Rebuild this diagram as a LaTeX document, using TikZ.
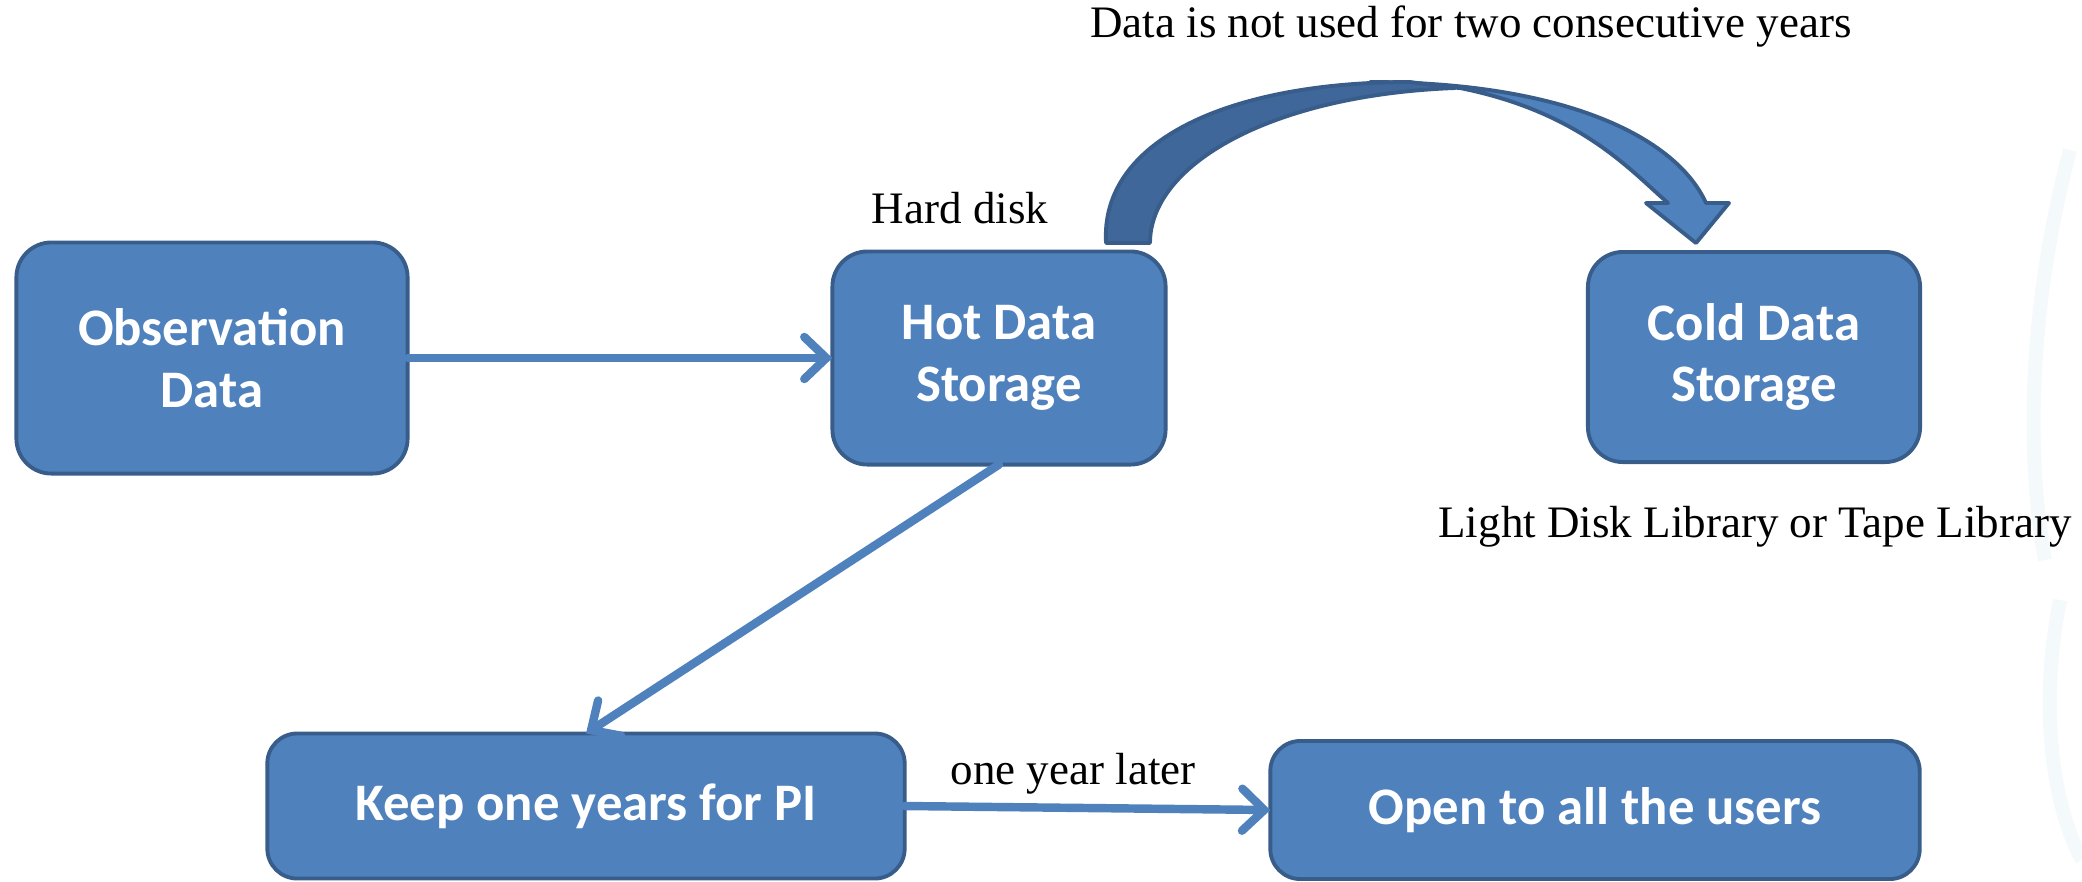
\documentclass[tikz,border=0pt]{standalone}
\usepackage{fontspec}
\setmainfont{Liberation Serif}
\newfontfamily\boxfont{Carlito}
\usepackage{tikz}
\usetikzlibrary{arrows.meta}

\definecolor{boxblue}{RGB}{79,129,189}
\definecolor{boxedge}{RGB}{56,93,138}
\definecolor{darkblue}{RGB}{64,103,154}
\definecolor{faintblue}{RGB}{244,249,251}

\tikzset{
  databox/.style={draw=boxedge, fill=boxblue, line width=1.1pt, rounded corners=0.35cm,
    text=white, font=\boxfont\bfseries\fontsize{15}{17.5}\selectfont, align=center,
    inner sep=0pt, outer sep=0pt},
  conn/.style={draw=boxblue, line width=2.4pt, line cap=round,
    -{Straight Barb[length=0.22cm,width=0.42cm,line cap=round]}},
  note/.style={font=\fontsize{12.8}{15}\selectfont, inner sep=0pt}
}

\begin{document}
\begin{tikzpicture}[x=0.01cm, y=-0.01cm]
\useasboundingbox (0,0) rectangle (2082,881);

% faint background at the right edge
\draw[faintblue, line width=4pt] (2070,150) .. controls (2030,300) and (2025,450) .. (2045,560);
\draw[faintblue, line width=4pt] (2060,600) .. controls (2040,700) and (2050,800) .. (2082,860);

\node[databox, minimum width=3.91cm, minimum height=2.31cm] (obs) at (212,358) {Observation\\Data};
\node[databox, minimum width=3.33cm, minimum height=2.13cm] (hot) at (999,358) {Hot Data\\Storage};
\node[databox, minimum width=3.32cm, minimum height=2.10cm] (cold) at (1754,357) {Cold Data\\Storage};
\node[databox, minimum width=6.37cm, minimum height=1.45cm, rounded corners=0.3cm] (keep) at (586,806) {Keep one years for PI};
\node[databox, minimum width=6.49cm, minimum height=1.38cm, rounded corners=0.3cm] (open) at (1595,810) {Open to all the users};

\node[note] (unused) at (1471,27) {Data is not used for two consecutive years};
\node[note] (disk) at (960,208) {Hard disk};
\node[note] (library) at (1755,527) {Light Disk Library or Tape Library};
\node[note] (later) at (1073,774) {one year later};

\draw[conn] (obs) -- (hot);
\draw[conn] (hot.south) -- (keep.north);
\draw[conn] (keep.east) -- (open.west);

% curved block arrow from hot to cold
\filldraw[fill=boxblue, draw=boxedge, line width=1.1pt, line join=round]
  (1370,82) .. controls (1560,82) and (1675,135) .. (1706,203) -- (1729,203) -- (1696,243)
  -- (1646,203) -- (1668,203) .. controls (1630,170) and (1580,112) .. (1460,88) -- cycle;
\filldraw[fill=darkblue, draw=boxedge, line width=1.1pt, line join=round]
  (1106,243) .. controls (1100,140) and (1230,82) .. (1410,82) -- (1455,88)
  .. controls (1270,95) and (1150,165) .. (1150,243) -- cycle;

\end{tikzpicture}
\end{document}
